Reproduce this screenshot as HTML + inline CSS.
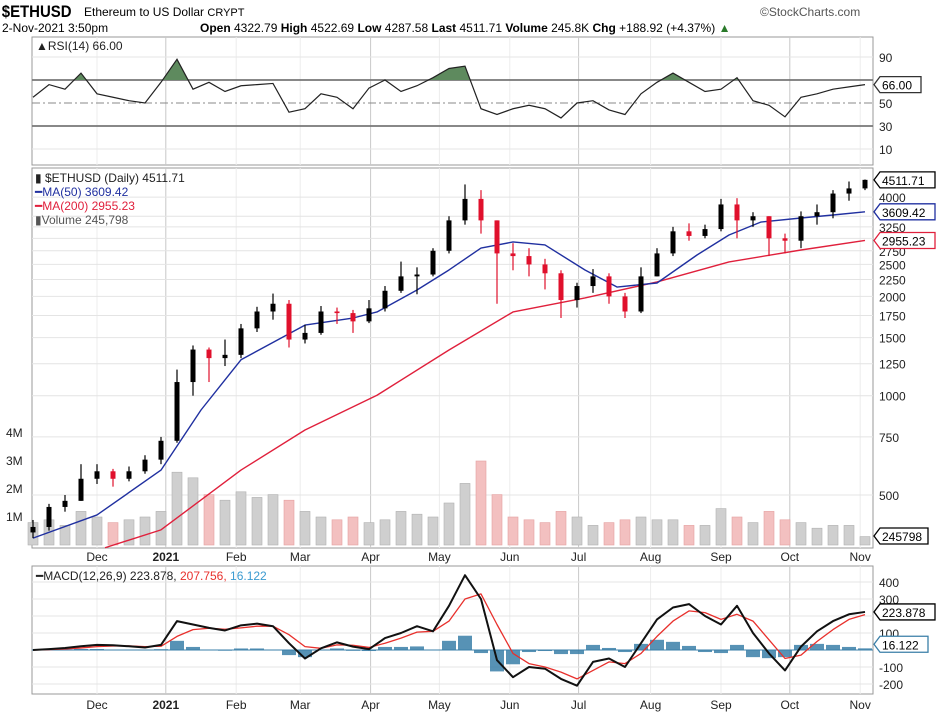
<!DOCTYPE html>
<html><head><meta charset="utf-8"><style>
html,body{margin:0;padding:0;background:#fff;}
svg{display:block;font-family:"Liberation Sans",sans-serif;}
</style></head><body>
<svg id="chart" width="936" height="718" viewBox="0 0 936 718">
<defs><clipPath id="rsiclip"><rect x="32" y="37" width="841" height="43"/></clipPath></defs>
<g>
<text x="2" y="17" font-size="17" font-weight="bold" transform="scale(0.88,1)">$ETHUSD</text>
<text x="84" y="16" font-size="12">Ethereum to US Dollar  <tspan font-size="11">CRYPT</tspan></text>
<text x="760" y="16" font-size="12" fill="#555">©StockCharts.com</text>
<text x="2" y="32" font-size="12">2-Nov-2021 3:50pm</text>
<text x="200" y="32" font-size="12"><tspan font-weight="bold">Open</tspan> 4322.79 <tspan font-weight="bold">High</tspan> 4522.69 <tspan font-weight="bold">Low</tspan> 4287.58 <tspan font-weight="bold">Last</tspan> 4511.71 <tspan font-weight="bold">Volume</tspan> 245.8K <tspan font-weight="bold">Chg</tspan> +188.92 (+4.37%) <tspan fill="#2a7a2a">▲</tspan></text>
</g>
<g id="rsi"></g>
<g id="main"></g>
<g id="macd"></g>
</svg>
<script>
const weeks = [0,1,2,3,4,5,6,7,8,9,10,11,12,13,14,15,16,17,18,19,20,21,22,23,24,25,26,27,28,29,30,31,32,33,34,35,36,37,38,39,40,41,42,43,44,45,46,47,48,49,50,51,52];
const closes = [400,460,480,560,590,560,590,640,730,1100,1380,1300,1330,1600,1800,1900,1480,1550,1800,1780,1680,1840,2080,2300,2330,2750,3400,3950,3400,2700,2650,2500,2350,1950,2150,2300,2000,1800,2300,2700,3150,3050,3200,3800,3400,3500,3000,2950,3500,3600,4100,4250,4511.71];
const highs = [420,470,500,620,620,600,610,660,750,1200,1420,1400,1480,1650,1860,2040,1950,1640,1870,1850,1820,1950,2150,2550,2450,2800,3500,4370,4200,3400,2900,2800,2600,2400,2200,2420,2350,2050,2450,2800,3250,3330,3300,3950,3970,3600,3500,3100,3620,3800,4200,4460,4522.69];
const lows = [370,390,445,480,540,530,550,580,620,720,1000,1100,1230,1300,1560,1700,1400,1440,1530,1650,1550,1660,1800,2050,2030,2300,2700,3300,3100,1900,2400,2300,2100,1720,1850,2050,1900,1720,1780,2300,2650,2950,3000,3150,3000,3250,2650,2700,2800,3300,3450,3900,4200];
const volumes = [0.8,0.9,0.7,1.2,1.0,0.8,0.9,1.0,1.2,2.6,2.4,1.8,1.6,1.9,1.7,1.8,1.6,1.2,1.0,0.9,1.0,0.8,0.9,1.2,1.1,1.0,1.5,2.2,3.0,1.8,1.0,0.9,0.8,1.2,1.0,0.7,0.8,0.9,1.0,0.9,0.9,0.7,0.7,1.3,1.0,0.8,1.2,0.9,0.8,0.6,0.7,0.7,0.3];
const ma50Weeks = [0,4,8,10.5,13,17,20,21.5,24,26,28,30,32,34.5,36.5,39,41.5,43.5,45.5,48,50,52];
const ma50 = [370,435,595,905,1285,1637,1720,1794,2091,2405,2803,2924,2864,2405,2135,2196,2670,3070,3361,3457,3530,3609.42];
const ma200Weeks = [4.5,8,13,17,21.5,26,30,34.5,39,43.5,48,52];
const ma200 = [346,392,595,787,1003,1376,1794,1978,2212,2544,2765,2955.23];
const rsi = [55,66,62,76,58,55,52,50,68,88,62,68,60,65,66,67,42,45,58,55,45,63,70,60,65,72,80,82,45,40,45,48,45,37,50,52,44,40,58,68,76,68,60,62,72,52,48,38,55,58,62,64,66];
const macdLine = [0,5,12,22,30,28,22,15,30,170,150,130,115,145,155,140,40,-50,10,45,20,5,70,100,140,110,260,440,300,-60,-160,-100,-110,-170,-210,-70,-50,-100,40,180,250,270,200,150,260,100,-20,-120,20,110,170,210,223.878];
const signalLine = [0,2,6,12,20,24,24,20,22,80,120,128,122,130,140,140,90,20,10,30,28,15,40,70,105,110,170,300,330,150,-20,-80,-100,-130,-170,-120,-70,-80,-20,80,170,230,220,180,210,170,60,-50,-30,50,120,180,207.756];
const priceTicks = [500,750,1000,1250,1500,1750,2000,2250,2500,2750,3000,3250,3500,4000];
const priceTickLabels = ["500","750","1000","1250","1500","1750","2000","2250","2500","2750","","3250","","4000"];
const volTicks = [1,2,3,4];
const rsiTicks = [90,70,50,30,10];
const macdTicks = [400,300,200,100,0,-100,-200];
const macdTickLabels = ["400","300","","100","","-100","-200"];
const monthNames = ["Dec","2021","Feb","Mar","Apr","May","Jun","Jul","Aug","Sep","Oct","Nov"];
const monthWeeks = [4,8.3,12.7,16.7,21.1,25.4,29.8,34.1,38.6,43,47.3,51.7];

const NS="http://www.w3.org/2000/svg";
const L=32,R=873;
const xw=w=>33+w*16;
const py=p=>395.7-99.3*Math.log2(p/1000);
const vy=m=>545-m*28;
const ry=v=>80+(70-v)*1.15;
const my=v=>650-v*0.17;
function mk(parent,tag,attrs,text){const e=document.createElementNS(NS,tag);for(const k in attrs)e.setAttribute(k,attrs[k]);if(text!==undefined)e.textContent=text;parent.appendChild(e);return e;}

function panelFrame(g,top,bot,name){
  const r=mk(g,'rect',{x:L,y:top,width:R-L,height:bot-top,fill:'#fff',stroke:'#999','stroke-width':1});
  
  
  monthWeeks.forEach((w,i)=>{
    const ln=mk(g,'line',{x1:xw(w),x2:xw(w),y1:top,y2:bot,stroke:(i%3==1)?'#c8c8c8':'#ececec','stroke-width':1});
    
    
  });
}
function valueBox(g,y,txt,color,name){
  const w=txt.length*7+6;
  const p=mk(g,'path',{d:`M${R+1} ${y} L${R+7} ${y-8} H${R+7+w} V${y+8} H${R+7} Z`,fill:'#fff',stroke:color,'stroke-width':1.3});
  
  
  const t=mk(g,'text',{x:R+9,y:y+5,'font-size':12,fill:'#000'},txt);
  
  
}
function monthLabels(g,y){
  monthNames.forEach((m,i)=>{
    const t=mk(g,'text',{x:xw(monthWeeks[i]),y:y,'font-size':12,'text-anchor':'middle','font-weight':m==='2021'?'bold':'normal',fill:'#222'},m);
    
    
  });
}

// RSI
const gR=document.getElementById('rsi');
panelFrame(gR,37,165,'rsi');
rsiTicks.forEach(v=>{
  const st=v===70||v===30?{stroke:'#777','stroke-width':1.8}:v===50?{stroke:'#888','stroke-width':1,'stroke-dasharray':'8,3,2,3'}:{stroke:'#e6e6e6','stroke-width':1};
  const ln=mk(gR,'line',Object.assign({x1:L,x2:R,y1:ry(v),y2:ry(v)},st));
  
  
  if(v!==70){const t=mk(gR,'text',{x:R+6,y:ry(v)+5,'font-size':12,fill:'#222'},String(v));
  
  }
});
let rp=rsi.map((v,i)=>`${xw(weeks[i])},${ry(v)}`).join(' ');
const rf=mk(gR,'polygon',{points:`${xw(0)},${ry(70)} ${rp} ${xw(52)},${ry(70)}`,fill:'#5e8a5e','clip-path':'url(#rsiclip)'});


const rl=mk(gR,'polyline',{points:rp,fill:'none',stroke:'#222','stroke-width':1.2});


const rt=mk(gR,'text',{x:36,y:50,'font-size':12,fill:'#222'},'▲RSI(14) 66.00');


valueBox(gR,ry(rsi[rsi.length-1]),'66.00','#333','rsi-value');

// Main
const gM=document.getElementById('main');
panelFrame(gM,168,548,'price');
priceTicks.forEach((p,i)=>{
  const ln=mk(gM,'line',{x1:L,x2:R,y1:py(p),y2:py(p),stroke:'#e4e4e4','stroke-width':1});
  
  
  if(priceTickLabels[i]){const t=mk(gM,'text',{x:R+6,y:py(p)+5,'font-size':12,fill:'#222'},priceTickLabels[i]);
  
  }
});
volTicks.forEach(m=>{
  const t=mk(gM,'text',{x:6,y:vy(m)+4,'font-size':12,fill:'#222'},m+'M');
  
  
});
volumes.forEach((v,i)=>{
  const open=i===0?385:closes[i-1];
  const up=closes[i]>=open;
  const b=mk(gM,'rect',{x:xw(weeks[i])-5,y:vy(v),width:10,height:545-vy(v),fill:up?'#cfcfcf':'#f3c0c0',stroke:up?'#b0b0b0':'#e4a0a0','stroke-width':0.6});
  
  
});
function line(g,xsArr,vals,yf,color,w,name){
  const pl=mk(g,'polyline',{points:vals.map((v,i)=>`${xw(xsArr[i])},${yf(v)}`).join(' '),fill:'none',stroke:color,'stroke-width':w,'stroke-linejoin':'round'});
  
  
}
line(gM,ma200Weeks,ma200,py,'#e0203c',1.4,'ma200-line');
line(gM,ma50Weeks,ma50,py,'#2030a0',1.4,'ma50-line');
closes.forEach((c,i)=>{
  const o=i===0?385:closes[i-1];
  const up=c>=o;const col=up?'#000':'#e0102c';const x=xw(weeks[i]);
  const wk=mk(gM,'line',{x1:x,x2:x,y1:py(highs[i]),y2:py(lows[i]),stroke:col,'stroke-width':1.2});
  
  
  const top=Math.min(py(o),py(c)),h=Math.max(1.5,Math.abs(py(o)-py(c)));
  const bd=mk(gM,'rect',{x:x-2.5,y:top,width:5,height:h,fill:col});
  
  
});
[['▮ $ETHUSD (Daily) 4511.71','#222'],['━MA(50) 3609.42','#2030a0'],['━MA(200) 2955.23','#e0203c'],['▮Volume 245,798','#555']].forEach((a,i)=>{
  const t=mk(gM,'text',{x:35,y:182+i*14,'font-size':12,fill:a[1]},a[0]);
  
  
});
valueBox(gM,py(closes[closes.length-1]),'4511.71','#000','last-price');
valueBox(gM,py(ma50[ma50.length-1]),'3609.42','#2030a0','ma50-value');
valueBox(gM,py(ma200[ma200.length-1]),'2955.23','#e0203c','ma200-value');
valueBox(gM,536,'245798','#000','volume-value');
monthLabels(gM,561);

// MACD
const gD=document.getElementById('macd');
panelFrame(gD,566,694,'macd');
macdTicks.forEach((v,i)=>{
  const ln=mk(gD,'line',{x1:L,x2:R,y1:my(v),y2:my(v),stroke:'#e4e4e4','stroke-width':1});
  
  
  if(macdTickLabels[i]){const t=mk(gD,'text',{x:R+6,y:my(v)+5,'font-size':12,fill:'#222'},macdTickLabels[i]);
  
  }
});
macdLine.forEach((m,i)=>{
  const h=(m-signalLine[i])*0.6;
  const b=mk(gD,'rect',{x:xw(weeks[i])-7,y:Math.min(my(h),my(0)),width:14,height:Math.abs(my(h)-my(0)),fill:'#3a7fa8',opacity:0.85});
  
  
});
const zl=mk(gD,'line',{x1:L,x2:R,y1:my(0),y2:my(0),stroke:'#3a7fa8','stroke-width':1});


line(gD,weeks,signalLine,my,'#e8302c',1.3,'macd-signal-line');
line(gD,weeks,macdLine,my,'#111',2,'macd-line');
const mt=mk(gD,'text',{x:36,y:580,'font-size':12,fill:'#222'});


mk(mt,'tspan',{},'━MACD(12,26,9) 223.878, ');mk(mt,'tspan',{fill:'#e8302c'},'207.756, ');mk(mt,'tspan',{fill:'#3a9ad0'},'16.122');
valueBox(gD,my(macdLine[macdLine.length-1]),'223.878','#000','macd-value');
valueBox(gD,my(16.122)-3,'16.122','#3a7fa8','histogram-value');
monthLabels(gD,709);
</script>
</body></html>
